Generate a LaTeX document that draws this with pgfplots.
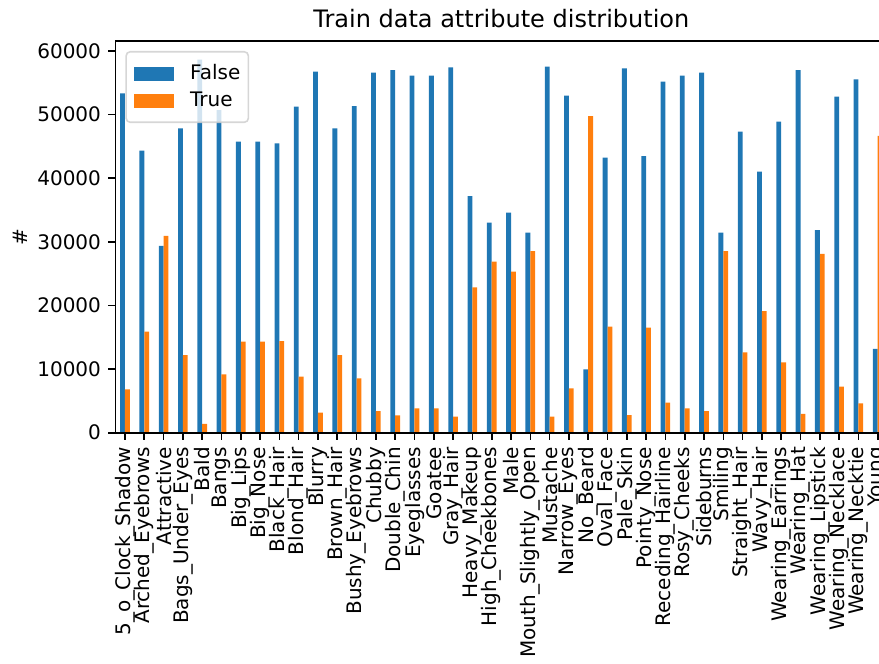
\documentclass[border=0pt]{standalone}
\usepackage{fontspec}
\setmainfont{DejaVu Sans}
\usepackage{pgfplots}
\pgfplotsset{compat=1.18}
\usepackage{pgfplotstable}
\definecolor{tabblue}{HTML}{1F77B4}
\definecolor{taborange}{HTML}{FF7F0E}
\pgfplotstableread{
idx f t
0 53350 6820
1 44330 15880
2 29350 30920
3 47850 12210
4 58640 1370
5 50720 9180
6 45750 14300
7 45750 14300
8 45480 14410
9 51250 8800
10 56740 3150
11 47850 12210
12 51350 8540
13 56590 3410
14 57010 2730
15 56120 3830
16 56120 3830
17 57430 2520
18 37200 22850
19 33010 26880
20 34580 25310
21 31440 28560
22 57530 2520
23 52970 6970
24 9960 49780
25 43220 16660
26 57270 2780
27 43490 16510
28 55170 4720
29 56120 3830
30 56590 3410
31 31440 28560
32 47330 12640
33 41030 19130
34 48890 11070
35 57010 2940
36 31840 28090
37 52810 7230
38 55540 4620
39 13160 46640
}\attrdata
\begin{document}
\begin{tikzpicture}[trim left=-57.675pt, trim right=381.825pt]
\path (-57.675pt,-115.65pt) rectangle (381.825pt,216.35pt);
\begin{axis}[
  scale only axis, width=386pt, height=195.85pt,
  xmin=-0.5, xmax=39.5, ymin=0, ymax=61572,
  ybar, bar width=0.25,
  axis on top,
  xtick={0,...,39},
  xticklabels={5\_o\_Clock\_Shadow, Arched\_Eyebrows, Attractive, Bags\_Under\_Eyes, Bald, Bangs, Big\_Lips, Big\_Nose, Black\_Hair, Blond\_Hair, Blurry, Brown\_Hair, Bushy\_Eyebrows, Chubby, Double\_Chin, Eyeglasses, Goatee, Gray\_Hair, Heavy\_Makeup, High\_Cheekbones, Male, Mouth\_Slightly\_Open, Mustache, Narrow\_Eyes, No\_Beard, Oval\_Face, Pale\_Skin, Pointy\_Nose, Receding\_Hairline, Rosy\_Cheeks, Sideburns, Smiling, Straight\_Hair, Wavy\_Hair, Wearing\_Earrings, Wearing\_Hat, Wearing\_Lipstick, Wearing\_Necklace, Wearing\_Necktie, Young},
  ytick={0,10000,20000,30000,40000,50000,60000},
  scaled y ticks=false,
  yticklabel style={/pgf/number format/fixed, /pgf/number format/1000 sep={}},
  /pgf/number format/assume math mode=true,
  tick align=outside, major tick length=3.5pt,
  tick style={black, line width=0.8pt},
  axis line style={line width=0.8pt},
  xtick pos=bottom, ytick pos=left,
  ticklabel style={font=\fontsize{10}{12}\selectfont, inner sep=0pt},
  xticklabel style={rotate=90, anchor=east},
  yticklabel style={anchor=east},
  ticklabel shift=3.5pt,
  title={Train data attribute distribution},
  title style={font=\fontsize{12}{14.4}\selectfont, at={(0.5,1)}, anchor=base, yshift=0.7pt, inner sep=0pt},
  ylabel={\#},
  ylabel style={at={(axis description cs:-0.1127,0.5)}, anchor=south, inner sep=0pt, font=\fontsize{10}{12}\selectfont},
  legend cell align=left,
  legend style={at={(axis description cs:0,1)}, anchor=north west, xshift=5pt, yshift=-5pt,
    draw=gray!40, line width=0.8pt, rounded corners=2pt, fill=white, fill opacity=0.8, draw opacity=0.8, text opacity=1,
    font=\fontsize{10}{12}\selectfont, inner xsep=4pt, inner ysep=6.4pt, row sep=4.55pt,
    nodes={inner sep=0pt}, column sep=8pt},
  legend image code/.code={\fill[#1, fill opacity=1, draw=none, sharp corners] (0pt,-3.5pt) rectangle (20pt,3.5pt);},
]
\addplot[fill=tabblue, draw=none, bar shift=-0.125] table[x=idx,y=f]{\attrdata};
\addplot[fill=taborange, draw=none, bar shift=0.125] table[x=idx,y=t]{\attrdata};
\legend{False,True}
\end{axis}
\end{tikzpicture}
\end{document}
